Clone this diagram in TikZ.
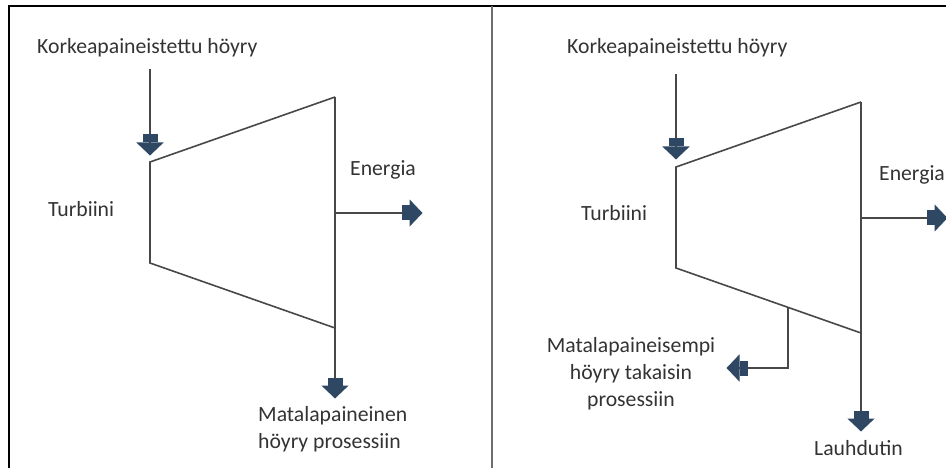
\documentclass[tikz,border=0pt]{standalone}
\usepackage{fontspec}
\setmainfont{Carlito}
\usetikzlibrary{arrows.meta,calc}
\definecolor{linegray}{HTML}{484848}
\definecolor{headblue}{HTML}{2E4863}
\definecolor{textgray}{HTML}{333333}
\definecolor{divgray}{HTML}{6E6E6E}
\tikzset{
  x=1pt, y=-1pt,
  lbl/.style={font=\fontsize{21.7}{27}\selectfont, text=textgray, inner sep=0pt},
  body/.style={draw=linegray, line width=1.6pt, line join=miter},
  flow/.style={draw=linegray, line width=1.6pt,
    -{Rectangle[length=8pt,width=15pt,color=headblue,fill=headblue]Triangle[length=13pt,width=27pt,color=headblue,fill=headblue,sep=-0.5pt]}},
}
\begin{document}
\begin{tikzpicture}
\useasboundingbox (0,0) rectangle (946,468);
% frame and panel divider
\draw[black, line width=2.5pt] (946,6) -- (9,6) -- (9,468);
\draw[divgray, line width=1.5pt] (492,6) -- (492,468);

% ---------- left panel: back-pressure turbine ----------
\node[lbl, anchor=west] (inA) at (37,48) {Korkeapaineistettu höyry};
\coordinate (inAs) at (150,69);
\coordinate (inAe) at (150,155);
\draw[flow] (inAs) -- (inAe);
\coordinate (tA1) at (150,162);
\coordinate (tA2) at (335,97);
\coordinate (tA3) at (335,328);
\coordinate (tA4) at (150,263);
\draw[body] (tA3) -- (tA4) -- (tA1) -- (tA2);
\coordinate (outA) at (335,398);
\draw[flow] (tA2) -- (outA);
\node[lbl, anchor=west] (enA) at (350,170) {Energia};
\coordinate (eAs) at (335,213);
\coordinate (eAe) at (422,213);
\draw[flow] (eAs) -- (eAe);
\node[lbl, anchor=west] (tuA) at (48,209) {Turbiini};
\node[lbl, anchor=north west, align=left] (lpA) at (258,406) {Matalapaineinen\\höyry prosessiin};

% ---------- right panel: extraction-condensing turbine ----------
\node[lbl, anchor=west] (inB) at (567,48) {Korkeapaineistettu höyry};
\coordinate (inBs) at (676,74);
\coordinate (inBe) at (676,159);
\draw[flow] (inBs) -- (inBe);
\coordinate (tB1) at (676,167);
\coordinate (tB2) at (861,102);
\coordinate (tB3) at (861,333);
\coordinate (tB4) at (676,268);
\draw[body] (tB3) -- (tB4) -- (tB1) -- (tB2);
\coordinate (outB) at (861,431);
\draw[flow] (tB2) -- (outB);
\node[lbl, anchor=west] (enB) at (879,175) {Energia};
\coordinate (eBs) at (861,218);
\coordinate (eBe) at (947,218);
\draw[flow] (eBs) -- (eBe);
\node[lbl, anchor=west] (tuB) at (581,213) {Turbiini};
\coordinate (exB) at ($(tB4)!0.605!(tB3)$);
\coordinate (exBe) at (727,368);
\draw[flow] (exB) -- (exB |- exBe) -- (exBe);
\node[lbl, anchor=north, align=center] (lpB) at (631,337) {Matalapaineisempi\\höyry takaisin\\prosessiin};
\node[lbl, anchor=west] (cdB) at (814,448) {Lauhdutin};
\end{tikzpicture}
\end{document}
